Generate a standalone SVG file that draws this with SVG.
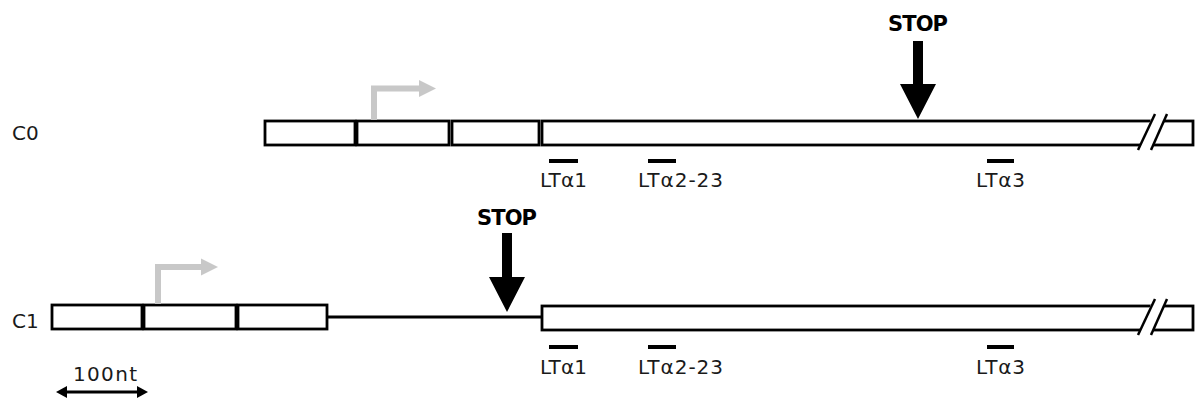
<svg xmlns="http://www.w3.org/2000/svg" width="1196" height="401" viewBox="0 0 1196 401">
<style>
.box{fill:#fff;stroke:#000;stroke-width:2.8}
.lbl{font-family:"DejaVu Sans",Verdana,sans-serif;font-size:20px;fill:#1a1a1a}
.stop{font-family:"DejaVu Sans",Verdana,sans-serif;font-size:21px;font-weight:bold;fill:#000}
.bar{stroke:#000;stroke-width:4}
.tss{fill:none;stroke:#c8c8c8;stroke-width:6}
.tsshead{fill:#c8c8c8}
.slash{stroke:#000;stroke-width:2.5}
.gap{fill:#fff;stroke:none}
</style>
<rect width="1196" height="401" fill="#fff"/>

<g id="C0">
  <text class="lbl" x="12" y="140">C0</text>
  <rect class="box" x="265" y="121" width="90" height="24"/>
  <rect class="box" x="357" y="121" width="92" height="24"/>
  <rect class="box" x="452" y="121" width="87" height="24"/>
  <rect class="box" x="542" y="121" width="651" height="24"/>
  <polygon class="gap" points="1151,119 1164,119 1153,147 1140,147"/>
  <line class="slash" x1="1138" y1="150" x2="1155" y2="114"/>
  <line class="slash" x1="1151" y1="150" x2="1167" y2="114"/>
  <polyline class="tss" points="374,120 374,88.5 421,88.5"/>
  <polygon class="tsshead" points="419,80 436,88.5 419,97"/>
  <text class="stop" x="918" y="31" text-anchor="middle" textLength="60">STOP</text>
  <polygon fill="#000" points="913,41 923,41 923,84 936,84 918,119 900,84 913,84"/>
  <line class="bar" x1="549" y1="161" x2="578" y2="161"/>
  <line class="bar" x1="648" y1="161" x2="676" y2="161"/>
  <line class="bar" x1="987" y1="161" x2="1014" y2="161"/>
  <text class="lbl" x="540" y="187" textLength="47">LTα1</text>
  <text class="lbl" x="638" y="187" textLength="85">LTα2-23</text>
  <text class="lbl" x="976" y="187" textLength="49">LTα3</text>
</g>

<g id="C1">
  <text class="lbl" x="12" y="328">C1</text>
  <rect class="box" x="52" y="305" width="90" height="24"/>
  <rect class="box" x="144" y="305" width="92" height="24"/>
  <rect class="box" x="238" y="305" width="89" height="24"/>
  <line stroke="#000" stroke-width="3" x1="327" y1="317" x2="542" y2="317"/>
  <rect class="box" x="542" y="306" width="651" height="24"/>
  <polygon class="gap" points="1151,304 1164,304 1153,332 1140,332"/>
  <line class="slash" x1="1138" y1="335" x2="1155" y2="299"/>
  <line class="slash" x1="1151" y1="335" x2="1167" y2="299"/>
  <polyline class="tss" points="158,304 158,267 203,267"/>
  <polygon class="tsshead" points="201,258.5 218,267 201,275.5"/>
  <text class="stop" x="507" y="225" text-anchor="middle" textLength="60">STOP</text>
  <polygon fill="#000" points="502,233 512,233 512,277 525,277 507,312 489,277 502,277"/>
  <line class="bar" x1="549" y1="347" x2="578" y2="347"/>
  <line class="bar" x1="648" y1="347" x2="676" y2="347"/>
  <line class="bar" x1="987" y1="347" x2="1014" y2="347"/>
  <text class="lbl" x="540" y="374" textLength="47">LTα1</text>
  <text class="lbl" x="638" y="374" textLength="85">LTα2-23</text>
  <text class="lbl" x="976" y="374" textLength="49">LTα3</text>
</g>

<g id="scale">
  <text class="lbl" x="73" y="381" textLength="64">100nt</text>
  <line stroke="#000" stroke-width="3" x1="64" y1="392" x2="140" y2="392"/>
  <polygon fill="#000" points="56,392 67,386 67,398"/>
  <polygon fill="#000" points="148,392 137,386 137,398"/>
</g>
</svg>
